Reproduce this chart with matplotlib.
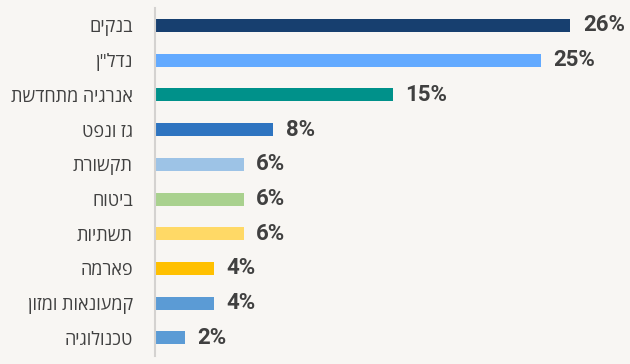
import matplotlib
matplotlib.use("Agg")
import matplotlib.pyplot as plt

# data (top to bottom)
categories = ["בנקים", 'נדל"ן', "אנרגיה מתחדשת", "גז ונפט", "תקשורת",
              "ביטוח", "תשתיות", "פארמה", "קמעונאות ומזון", "טכנולוגיה"]
values = [28.1, 26.1, 16.1, 8, 6, 6, 6, 4, 4, 2]
value_labels = ["26%", "25%", "15%", "8%", "6%", "6%", "6%", "4%", "4%", "2%"]
colors = ["#173f6f", "#63aaff", "#00918a", "#2e74c0", "#9dc3e6",
          "#a9d18e", "#ffd966", "#ffc000", "#5b9bd5", "#5b9bd5"]

bg = "#f8f6f3"
txt = "#404040"

# hebrew is drawn left-to-right by matplotlib, so reverse the strings
def rtl(s):
    return s[::-1]

fig = plt.figure(figsize=(6.3, 3.64), dpi=100, facecolor=bg)
ax = fig.add_axes([155/630, 8/364, 473/630, 348/364], facecolor=bg)

pos = list(range(len(categories)))
ax.barh(pos, values, height=0.375, color=colors)

ax.set_ylim(9.52, -0.5)
ax.set_xlim(0, 32)

ax.set_yticks(pos)
ax.set_yticklabels([rtl(c) for c in categories],
                   family=["Open Sans", "Liberation Sans", "DejaVu Sans"],
                   fontsize=13, color=txt)
ax.tick_params(axis="y", length=0, pad=16)
ax.set_xticks([])

for s in ["top", "right", "bottom"]:
    ax.spines[s].set_visible(False)
ax.spines["left"].set_color("#d4d2d0")
ax.spines["left"].set_linewidth(1.5)

for p, v, lab in zip(pos, values, value_labels):
    ax.annotate(lab, (v, p), xytext=(9, 0), textcoords="offset points",
                ha="left", va="center", family="Roboto", fontweight="bold",
                fontsize=16, color=txt)

plt.savefig("out.png", dpi=100, facecolor=bg)
